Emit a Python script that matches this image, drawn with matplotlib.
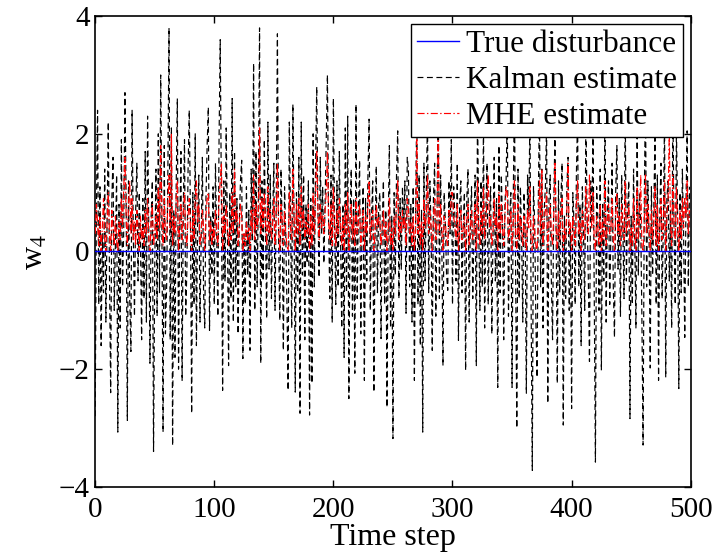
import matplotlib
matplotlib.use("Agg")
import matplotlib.pyplot as plt
import numpy as np


# Kalman estimate of w4, one value per time step
kalman = [
    -2.8, 0.6, 2.4, -0.9, 1.1, -1.6, 0.3, -0.7, 1.4, -1.2, 0.5, 2.2, -0.4, -2.4, 0.9, 1.6, -1.0, 0.2, 1.3, -3.07,
    0.8, -1.3, 1.9, -0.6, 0.4, 2.7, 0.9, -2.87, 1.2, -0.8, -1.7, 2.4, 0.3, -1.1, 0.7, 1.5, -0.5, 1.0, 0.2, -1.5,
    0.9, -0.8, 1.7, -1.2, 2.3, 0.4, -1.9, 0.6, 1.2, -3.4, -0.3, 1.4, -1.1, 2.0, -0.7, 3.0, 0.5, -3.07, 1.8, -1.4,
    -0.6, 1.3, 3.8, -1.5, 2.1, -3.3, 0.7, -1.8, 1.1, 2.6, -2.0, 0.4, 1.7, -2.2, 0.8, 1.9, -1.1, -0.3, 1.4, 2.4,
    0.6, -2.75, 1.0, -0.9, 2.0, -1.6, 0.5, 1.3, -1.2, 0.2, 1.6, -0.7, -1.3, 0.9, 1.8, 2.45, -1.34, 0.6, -0.4, 1.1,
    -0.9, 1.5, 0.3, -1.1, 1.9, 3.6, 0.8, -2.36, 1.2, -0.5, 2.1, 0.4, -1.94, 1.0, -0.8, 2.6, -1.2, 1.7, -0.6, 0.9,
    -1.4, 0.5, 1.2, 1.55, -1.82, 0.3, -0.9, 1.1, -0.4, 0.7, -1.68, 1.4, 0.2, 3.2, -1.0, 1.7, -0.6, 0.9, 3.8, -1.9,
    1.2, -0.5, 1.9, 0.4, -1.14, 2.2, -0.3, 1.3, -0.8, 0.6, 1.5, -1.0, 0.8, 3.7, 0.2, -1.17, 1.4, 0.5, -1.68, 1.1,
    0.3, -0.9, -2.36, 2.2, 0.6, -1.3, 2.5, 0.4, -2.39, 1.0, -0.7, 1.6, -2.75, 2.2, -0.4, 1.3, -1.5, 0.8, -0.2, 1.2,
    -2.78, 0.9, -2.24, 2.0, -0.6, 1.4, 2.8, 0.7, -0.44, 1.6, 0.3, 1.1, -0.2, 0.8, 1.9, 3.0, 0.4, -0.8, 1.3, -1.2,
    2.6, 0.5, -0.9, 1.2, -0.6, 1.7, 0.2, -1.3, 0.8, -1.8, 2.1, -0.7, 2.3, -2.5, 0.6, 1.4, -1.1, 0.9, -2.07, 2.5,
    -0.8, 0.7, 1.55, -1.4, 0.4, 1.1, -2.19, 0.9, -0.5, 1.3, 2.25, -1.0, 0.6, 1.2, -2.39, 0.3, 1.45, -0.7, 0.8, 1.0,
    -1.48, 0.5, 1.2, -0.9, 0.7, -2.65, 0.4, 1.8, -1.3, 0.6, -3.18, 1.0, -0.4, 1.3, 2.05, -0.8, 0.9, -0.3, 1.1, 0.4,
    1.2, -1.05, 1.6, 1.4, -0.6, 0.8, -1.2, 1.1, -2.19, 0.5, 2.6, -0.9, 1.3, -1.6, 0.7, -3.07, 1.5, -0.5, 1.0, 2.3,
    -0.7, 1.2, 0.4, -1.68, 0.9, 1.5, -1.1, 0.6, 2.9, -0.8, 1.3, 0.2, -1.94, 1.0, 0.5, -0.4, -0.66, 1.2, 0.3, 1.9,
    -0.9, 1.1, 0.6, -0.5, 1.5, -1.51, 0.8, 1.2, -0.7, 0.4, 1.0, -2.02, 0.9, 1.4, -1.2, 0.5, 1.1, -0.8, 0.3, 1.3,
    -1.94, 2.5, 0.4, -1.0, 1.2, -0.6, 2.2, -1.3, 0.7, 1.5, -0.9, 0.6, 1.1, -1.4, 0.3, 1.6, -0.5, 0.9, -2.31, 1.8,
    -0.7, 1.3, 0.5, -1.5, 0.8, 1.2, 2.4, -1.1, 0.6, 1.0, -2.31, 0.9, 2.7, -0.4, -3.0, 1.4, -0.8, 1.1, 0.3, -1.2,
    1.0, 0.4, -2.41, 1.3, 0.6, 2.3, -0.9, -3.72, 1.1, 0.5, -1.2, -2.14, 0.8, 2.5, -0.6, 1.4, -1.3, 0.7, 1.1, 2.2,
    -2.58, 0.9, 1.3, -0.5, -1.5, 0.8, 2.0, 0.3, -2.24, 1.2, -0.7, 0.9, 1.5, -2.95, 0.6, -0.8, 1.1, 1.6, -1.0, 0.4,
    -2.67, 1.0, 0.5, -0.9, 1.3, 2.3, -0.6, 0.8, -1.6, 1.1, 0.3, -1.0, 2.4, 0.6, -0.4, -1.87, 1.2, 0.5, 2.1, -0.7,
    -3.58, 1.1, 0.6, -1.0, 1.4, -2.02, 0.8, -0.5, 2.6, -1.2, 0.7, 1.2, -0.9, 0.4, 1.5, -0.6, -1.46, 1.0, 1.8, -0.3,
    0.9, -1.1, 1.3, 0.4, -0.8, 2.5, -0.5, 0.7, 1.2, -2.84, 0.6, -0.9, 1.4, 0.2, -1.3, 2.2, -0.4, 1.0, 0.5, -1.1,
    -3.29, 0.8, 2.7, -0.6, 1.2, 0.3, -1.98, 1.1, -0.4, 0.7, 2.0, -0.9, 1.3, -2.19, 0.6, 1.5, -0.8, 0.4, 2.3, -2.14,
    0.9, 1.2, -0.5, 0.7, -1.3, 2.5, 0.4, -0.9, 2.1, 0.6, -2.33, 1.0, -0.7, 1.4, 0.3, -1.46, 0.8, 2.05, -0.6, 1.1,
]

# MHE estimate of w4 (constrained to be non-negative)
mhe = [
    0.3, 0.8, 0.5, 0.1, 0.6, 0.0, 0.4, 0.9, 0.2, 0.0, 0.5, 1.0, 0.3, 0.0, 0.7, 0.4, 0.1, 0.6, 0.2, 0.0,
    0.5, 0.2, 0.9, 0.4, 1.1, 1.6, 0.6, 0.1, 0.8, 1.2, 0.3, 0.9, 0.2, 0.5, 0.1, 0.7, 0.4, 0.0, 0.6, 0.2,
    0.4, 0.1, 0.7, 0.3, 0.9, 0.2, 0.0, 0.5, 0.8, 0.1, 0.3, 0.6, 0.2, 1.1, 0.4, 1.8, 0.7, 0.1, 0.9, 0.3,
    0.2, 0.8, 1.3, 0.4, 2.0, 0.1, 0.6, 0.3, 0.9, 1.2, 0.0, 0.5, 0.8, 0.2, 0.7, 1.0, 0.3, 0.1, 0.6, 0.9,
    0.4, 0.0, 0.7, 0.2, 0.9, 1.2, 0.5, 0.8, 0.1, 0.3, 0.7, 0.4, 0.0, 0.6, 0.9, 1.0, 0.2, 0.5, 0.1, 0.4,
    0.2, 0.7, 0.3, 0.1, 0.9, 1.2, 1.5, 0.0, 0.6, 0.3, 0.8, 0.5, 0.1, 0.4, 0.2, 1.0, 0.3, 1.4, 0.5, 0.7,
    0.1, 0.4, 0.8, 0.6, 0.0, 0.3, 0.1, 0.5, 0.2, 0.4, 0.0, 0.7, 0.3, 1.3, 0.2, 0.8, 0.4, 0.6, 2.1, 0.3,
    0.9, 0.4, 1.0, 0.5, 0.1, 1.1, 0.3, 0.7, 0.2, 0.5, 0.9, 0.1, 0.6, 1.5, 0.4, 0.0, 0.8, 0.5, 0.1, 0.7,
    0.3, 0.1, 0.0, 1.0, 0.4, 0.2, 1.4, 0.6, 0.0, 0.8, 0.3, 0.9, 0.1, 1.1, 0.4, 0.7, 0.2, 0.5, 0.3, 0.8,
    0.0, 0.6, 0.1, 1.0, 0.3, 0.9, 1.7, 0.7, 0.2, 0.8, 0.4, 0.6, 0.3, 0.7, 1.0, 1.7, 0.5, 0.2, 0.8, 0.1,
    1.1, 0.4, 0.1, 0.7, 0.3, 0.9, 0.5, 0.1, 0.6, 0.0, 0.8, 0.3, 1.0, 0.0, 0.5, 0.8, 0.2, 0.6, 0.1, 0.9,
    0.3, 0.5, 0.8, 0.1, 0.4, 0.7, 0.0, 0.6, 0.3, 0.8, 1.2, 0.2, 0.5, 0.7, 0.0, 0.3, 0.8, 0.4, 0.6, 0.5,
    0.1, 0.4, 0.7, 0.2, 0.5, 0.0, 0.3, 0.9, 0.1, 0.4, 0.0, 0.6, 0.3, 0.8, 1.2, 0.2, 0.6, 0.3, 0.7, 0.4,
    0.6, 0.1, 0.9, 0.7, 0.3, 0.5, 0.1, 0.6, 0.0, 0.4, 1.9, 0.3, 0.8, 0.1, 0.5, 0.0, 0.9, 0.4, 0.6, 1.3,
    0.3, 0.7, 0.4, 0.0, 0.6, 0.9, 0.2, 0.5, 2.1, 0.3, 0.8, 0.4, 0.0, 0.6, 0.5, 0.2, 0.1, 0.7, 0.4, 1.0,
    1.0, 0.6, 0.4, 0.2, 0.8, 0.0, 0.5, 0.7, 0.2, 0.4, 0.6, 0.0, 0.5, 0.8, 0.1, 0.4, 0.7, 0.2, 0.3, 0.8,
    0.0, 1.2, 0.4, 0.1, 0.7, 0.3, 1.1, 0.2, 0.5, 0.9, 1.3, 0.4, 0.6, 0.1, 0.3, 0.9, 0.4, 0.6, 0.0, 1.0,
    0.3, 0.8, 0.4, 0.1, 0.6, 1.1, 1.0, 0.2, 0.4, 0.7, 0.0, 0.5, 1.2, 0.3, 0.0, 0.8, 0.2, 0.6, 0.4, 0.1,
    0.6, 0.3, 0.0, 0.7, 0.4, 1.1, 0.2, 0.0, 0.6, 0.3, 0.1, 0.0, 0.5, 1.2, 0.3, 1.4, 0.1, 0.5, 0.7, 1.0,
    0.0, 0.5, 0.8, 0.3, 0.1, 0.6, 1.5, 0.4, 0.0, 0.7, 0.2, 0.6, 0.9, 0.0, 0.4, 0.2, 0.7, 1.5, 0.3, 0.5,
    0.0, 0.6, 0.4, 0.1, 0.8, 1.2, 0.3, 0.5, 0.0, 0.7, 0.4, 0.2, 1.1, 0.5, 0.3, 1.3, 0.7, 0.4, 1.0, 0.2,
    0.0, 0.6, 0.4, 0.1, 0.8, 0.0, 0.5, 0.2, 1.2, 0.1, 0.5, 0.8, 0.3, 0.4, 0.9, 0.2, 0.0, 0.6, 1.0, 0.3,
    0.6, 0.1, 0.8, 0.4, 0.2, 1.2, 0.3, 0.5, 0.8, 0.0, 0.4, 0.1, 0.9, 0.3, 0.0, 1.1, 0.2, 0.6, 1.3, 0.1,
    0.0, 0.5, 1.3, 0.3, 0.8, 0.4, 0.0, 0.7, 0.2, 0.5, 1.1, 0.1, 0.8, 0.0, 0.4, 0.9, 0.2, 0.5, 1.2, 0.0,
    0.6, 0.9, 2.0, 0.5, 0.1, 1.3, 0.4, 0.2, 1.1, 0.5, 0.0, 0.7, 0.2, 0.9, 0.4, 0.9, 0.6, 1.2, 0.3, 0.7,
]

# true disturbance is identically zero over the horizon
true_dist = [0.0] * len(kalman)

x_ticks = [0, 100, 200, 300, 400, 500]
y_ticks = [-4, -2, 0, 2, 4]
y_ticklabels = ["\u22124", "\u22122", "0", "2", "4"]

plt.rcParams["font.family"] = ["Liberation Serif", "DejaVu Serif"]
plt.rcParams["mathtext.fontset"] = "stix"

steps = np.arange(len(kalman))

fig = plt.figure(figsize=(7.21, 5.57), dpi=100)
ax = fig.add_axes([0.132, 0.126, 0.826, 0.845])

ax.plot(steps, kalman, color="black", linestyle=(0, (5, 3)), linewidth=0.85, label="Kalman estimate", zorder=2)
ax.plot(steps, mhe, color="#ff0000", linestyle=(0, (6, 2, 1.2, 2)), linewidth=0.85, label="MHE estimate", zorder=3)
ax.plot(steps, true_dist, color="#0000ff", linewidth=1.0, label="True disturbance", zorder=4)

ax.set_xlim(0, 500)
ax.set_ylim(-4, 4)
ax.set_xticks(x_ticks)
ax.set_yticks(y_ticks)
ax.set_yticklabels(y_ticklabels)
ax.tick_params(direction="in", top=True, right=True, labelsize=21, length=5, width=1)
ax.tick_params(axis="x", pad=7)
ax.tick_params(axis="y", pad=4)
for spine in ax.spines.values():
    spine.set_linewidth(1.2)

ax.set_xlabel("Time step", fontsize=23, labelpad=0)
ax.set_ylabel(r"w$_4$", fontsize=23, labelpad=6)

handles, labels = ax.get_legend_handles_labels()
order = [2, 0, 1]
leg = ax.legend([handles[i] for i in order], [labels[i] for i in order], loc="upper right",
                fontsize=22.5, fancybox=False, framealpha=1, edgecolor="black",
                handlelength=1.35, handletextpad=0.2, borderpad=0.2, labelspacing=0.22,
                borderaxespad=0.25)
leg.get_frame().set_linewidth(1.0)

fig.savefig("out.png", dpi=100)
